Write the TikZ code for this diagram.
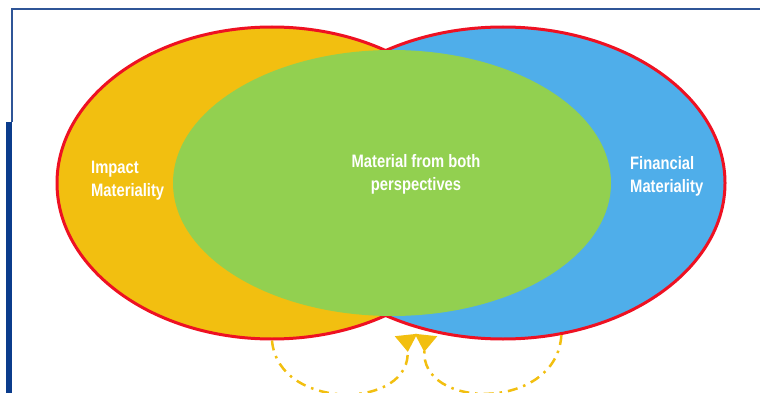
\documentclass[tikz,border=0pt]{standalone}
\usepackage{fontspec}
\setmainfont{Liberation Sans}[FakeStretch=0.82]
\usetikzlibrary{shapes.geometric,arrows.meta}
\definecolor{impactyellow}{HTML}{F2BF10}
\definecolor{finblue}{HTML}{4FAEEA}
\definecolor{bothgreen}{HTML}{92D050}
\definecolor{rimred}{HTML}{EE1122}
\definecolor{frameblue}{HTML}{2F5597}
\definecolor{barnavy}{HTML}{0B3C8C}
\begin{document}
\begin{tikzpicture}[x=1pt,y=-1pt,
  style={font=\fontsize{18}{23}\selectfont\bfseries},
  circ/.style={ellipse,inner sep=0pt,line width=3pt,draw=rimred},
  lbl/.style={text=white,align=left,inner sep=0pt},
  loopline/.style={impactyellow,line width=2.5pt,dash pattern=on 10pt off 6pt on 2.5pt off 6pt,
    -{Triangle[reversed,width=22pt,length=17pt]}}]
\useasboundingbox (0,0) rectangle (760,393);
%frame
\draw[frameblue,line width=1.2pt] (12,122) -- (12,9) -- (760,9);
\fill[barnavy] (6,122) rectangle (12,393);
%the three ellipses
\node[circ,fill=impactyellow,minimum width=430pt,minimum height=312pt] (impact) at (272,183) {};
\node[circ,fill=finblue,minimum width=444pt,minimum height=312pt] (financial) at (503,183) {};
\node[ellipse,inner sep=0pt,fill=bothgreen,minimum width=438pt,minimum height=266pt] (both) at (392,183) {};
\node[lbl,anchor=west] (impactlbl) at (91,181) {Impact\\Materiality};
\node[lbl,anchor=west] (finlbl) at (630,176) {Financial\\Materiality};
\node[lbl,align=center] (bothlbl) at (416,174) {Material from both\\perspectives};
%arrows
\coordinate (tipL) at (406,335);
\coordinate (tipR) at (426,335);
\draw[loopline] (impact.south) .. controls (278,412) and (414,410) .. (tipL);
\draw[loopline] (financial.-69) .. controls (557,412) and (418,410) .. (tipR);
\end{tikzpicture}
\end{document}
